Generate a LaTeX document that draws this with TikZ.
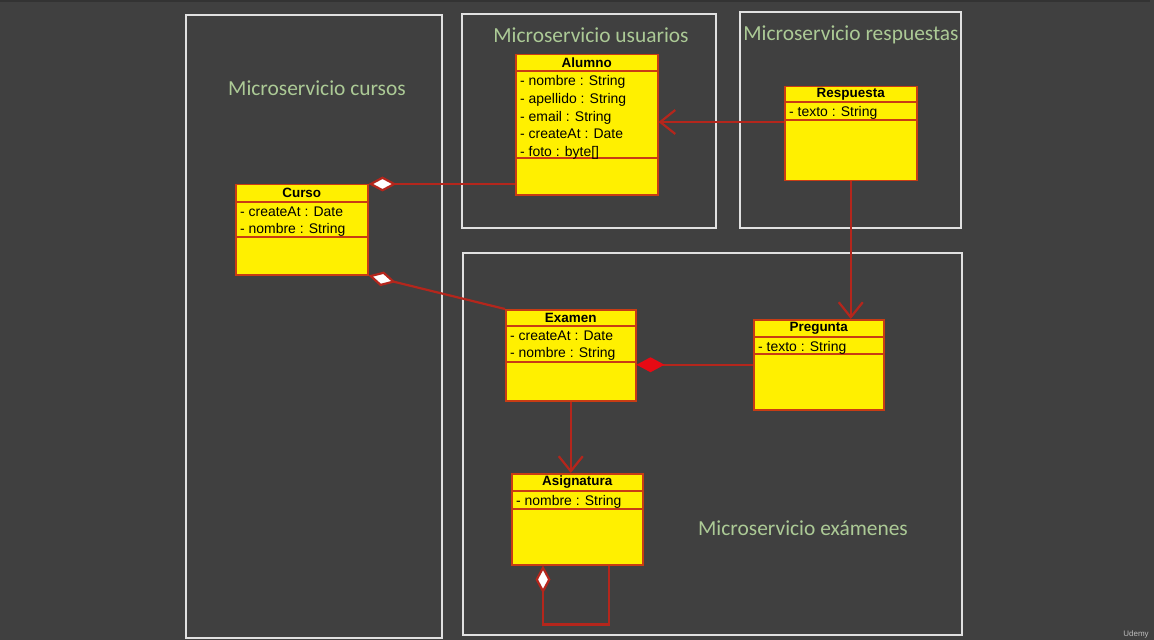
\documentclass[tikz,border=0pt]{standalone}
\usepackage{fontspec}
\setmainfont{Liberation Sans}
\newfontfamily\servicefont{Carlito}
\usetikzlibrary{arrows.meta}

\definecolor{bgcolor}{RGB}{64,64,64}
\definecolor{framecolor}{RGB}{225,225,225}
\definecolor{labelgreen}{RGB}{172,202,150}
\definecolor{classyellow}{RGB}{255,240,0}
\definecolor{classborder}{RGB}{200,60,20}
\definecolor{linkred}{RGB}{180,38,28}
\definecolor{diamondred}{RGB}{230,10,20}

\tikzset{
  frame/.style={draw=framecolor, line width=1.5bp},
  servicelabel/.style={text=labelgreen, font=\servicefont\fontsize{21.5}{24}\selectfont, inner sep=0},
  classbox/.style={draw=classborder, fill=classyellow, line width=1.5bp, inner sep=0},
  classline/.style={draw=classborder, line width=1.5bp},
  classtitle/.style={font=\bfseries\fontsize{13.5}{16}\selectfont, inner sep=0},
  classattr/.style={font=\fontsize{14}{17.7}\selectfont, align=left, inner xsep=5bp, inner ysep=4.5bp},
  link/.style={draw=linkred, line width=2.2bp},
  assoc/.style={link, -{Straight Barb[length=15bp, width=24bp]}},
  aggr/.style={link, -{Diamond[length=28bp, width=15bp, fill=white]}},
  compo/.style={link, -{Diamond[length=28bp, width=15bp, color=diamondred, fill=diamondred]}},
}

% name, top left, width, height, title row, attribute part, title, attributes
\newcommand{\umlclass}[8]{%
  \node (#1) [classbox, anchor=north west, minimum width=#3, minimum height=#4] at #2 {};
  \draw[classline] ([yshift=-#5]#1.north west) -- ([yshift=-#5]#1.north east);
  \draw[classline] ([yshift=-#6]#1.north west) -- ([yshift=-#6]#1.north east);
  \node (#1-title) [classtitle, minimum height=#5, anchor=north] at (#1.north) {#7};
  \node (#1-attrs) [classattr, anchor=north west] at ([yshift=-#5]#1.north west) {#8};
}

\begin{document}
\begin{tikzpicture}[x=1bp, y=-1bp]
  \useasboundingbox (0,0) rectangle (1154,640);
  \fill[bgcolor] (0,0) rectangle (1154,640);
  \fill[black!80] (0,0) rectangle (1154,2);
  \fill[black!75] (1150,0) rectangle (1154,640);

  % microservicios
  \draw[frame] (186,15) rectangle (442,638);
  \draw[frame] (462,14) rectangle (716,228);
  \draw[frame] (740,12) rectangle (961,228);
  \draw[frame] (463,253) rectangle (962,635);
  \node (cursos) [servicelabel] at (317,88) {Microservicio cursos};
  \node (usuarios) [servicelabel] at (591,35) {Microservicio usuarios};
  \node (respuestas) [servicelabel] at (851,35) {Microservicio respuestas};
  \node (examenes) [servicelabel] at (803,528) {Microservicio exámenes};

  % clases
  \umlclass{alumno}{(515,54)}{142bp}{140bp}{17bp}{104bp}{Alumno}
    {- nombre : String\\- apellido : String\\- email : String\\- createAt : Date\\- foto : byte[]}
  \umlclass{respuesta}{(784,86)}{132bp}{94bp}{16bp}{34bp}{Respuesta}{- texto : String}
  \umlclass{curso}{(235,184)}{132bp}{90bp}{18bp}{53bp}{Curso}{- createAt : Date\\- nombre : String}
  \umlclass{examen}{(505,309)}{130bp}{91bp}{17bp}{53bp}{Examen}{- createAt : Date\\- nombre : String}
  \umlclass{pregunta}{(753,319)}{130bp}{90bp}{18bp}{35bp}{Pregunta}{- texto : String}
  \umlclass{asignatura}{(511,473)}{131bp}{91bp}{18bp}{36bp}{Asignatura}{- nombre : String}

  % relaciones
  \coordinate (r-out) at ([yshift=-36bp]respuesta.north west);
  \draw[assoc] (r-out) -- (r-out -| alumno.east);
  \draw[aggr] (curso.north east -| alumno.west) -- (curso.north east);
  \draw[aggr] (examen.north west) -- (curso.south east);
  \draw[compo] (pregunta.west) -- (pregunta.west -| examen.east);
  \draw[assoc] (respuesta.south) -- (respuesta.south |- pregunta.north);
  \draw[assoc] (examen.south) -- (examen.south |- asignatura.north);
  \draw[aggr] ([xshift=98bp]asignatura.south west) -- ++(0,59) -| ([xshift=32bp]asignatura.south west);

  \node (udemy) [font=\fontsize{8}{9}\selectfont, text=black!25] at (1136,634) {Udemy};
\end{tikzpicture}
\end{document}
